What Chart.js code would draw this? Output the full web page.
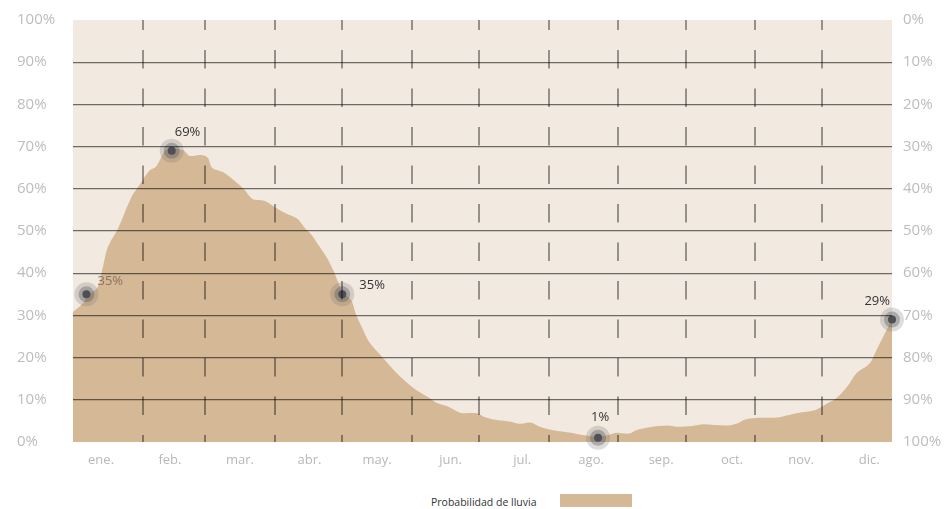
<!DOCTYPE html>
<html>
<head>
<meta charset="utf-8">
<title>Probabilidad de lluvia</title>
<script src="https://cdn.jsdelivr.net/npm/chart.js@4.4.1/dist/chart.umd.min.js"></script>
<style>
    html, body { margin: 0; padding: 0; background: #fff; }
    #wrap { position: relative; width: 948px; height: 509px; overflow: hidden; }
    #chart { position: absolute; left: 0; top: 0; }
    #legendText { position: absolute; left: 431px; top: 494px; font: 10.5px 'Open Sans', sans-serif; color: #333; line-height: 16px; }
    #legendBox { position: absolute; left: 560px; top: 494px; width: 72px; height: 13px; background: #d5b896; }
</style>
</head>
<body>
<div id="wrap">
    <canvas id="chart" width="948" height="485"></canvas>
    <span id="legendText">Probabilidad de lluvia</span>
    <div id="legendBox"></div>
</div>
<script>
// Meses (etiquetas del eje x)
const monthLabels = ['ene.', 'feb.', 'mar.', 'abr.', 'may.', 'jun.', 'jul.', 'ago.', 'sep.', 'oct.', 'nov.', 'dic.'];
// Día del año en que empieza cada mes (líneas discontinuas)
const monthStarts = [31, 59, 90, 120, 151, 181, 212, 243, 273, 304, 334];
// Posición (día) de cada etiqueta de mes
const monthLabelDays = [12.5, 43.2, 74.4, 105.4, 135.5, 168.3, 200.2, 230.9, 262.1, 293.7, 324.5, 354.8];
const yTicks = [0, 10, 20, 30, 40, 50, 60, 70, 80, 90, 100];

// Probabilidad de lluvia (%)
const rainDays = [0, 5, 6, 11, 13, 15, 17, 20, 26, 29, 34, 37, 41, 44, 49, 52, 57, 60, 62, 67, 71, 76, 80, 85, 89, 94,
    100, 103, 106, 110, 113, 116, 119, 120, 124, 126, 129, 132, 137, 141, 146, 152, 158, 162, 167, 173, 180, 183, 189,
    195, 199, 204, 208, 214, 222, 227, 234, 239, 242, 248, 251, 257, 265, 269, 276, 281, 291, 296, 300, 306, 314, 318,
    323, 331, 336, 340, 345, 349, 355, 358, 361, 365];
const rainValues = [30.8, 33.2, 34.5, 36.7, 40.7, 45.4, 47.8, 50.5, 58, 60.4, 64.3, 65.2, 69, 69.5, 69.2, 67.8, 68, 67.4, 65, 63.9, 62.3, 60, 57.6, 57.2, 56, 54.4,
    52.9, 50.9, 49.3, 46.2, 43.8, 40.7, 36.7, 35.4, 33.6, 30.4, 26.9, 23.7, 20.6, 18.2, 15.4, 12.7, 10.7, 9.3, 8.4, 6.9, 6.8, 6, 5.2,
    4.8, 4.3, 4.6, 3.6, 2.8, 2.2, 1.65, 1.2, 1.7, 2.2, 2, 2.8, 3.5, 3.9, 3.6, 3.8, 4.2, 3.9, 4.4, 5.4, 5.75, 5.8, 6.3,
    6.9, 7.6, 9.1, 10.3, 13.1, 16.2, 18.6, 21.7, 24.9, 29];

// Puntos destacados
const markerDays = [6, 44, 120, 234, 365];
const markerValues = [35, 69, 35, 1, 29];

const FONT = "'Open Sans', sans-serif";

function toPoints(xs, ys) {
    return xs.map((x, i) => ({ x: x, y: ys[i] }));
}

// Fondo del área del gráfico
const plotBackground = {
    id: 'plotBackground',
    beforeDraw(chart) {
        const { ctx, chartArea } = chart;
        ctx.save();
        ctx.fillStyle = '#f2e9e0';
        ctx.fillRect(chartArea.left, chartArea.top, chartArea.right - chartArea.left, chartArea.bottom - chartArea.top);
        ctx.restore();
    }
};

// Etiquetas de los puntos destacados
const markerLabels = {
    id: 'markerLabels',
    afterDraw(chart) {
        const { ctx } = chart;
        const meta = chart.getDatasetMeta(0);
        const place = [
            { dx: 11, dy: -13, align: 'left', color: '#8d735a' },
            { dx: 3, dy: -19, align: 'left', color: '#333' },
            { dx: 17, dy: -9, align: 'left', color: '#333' },
            { dx: 2, dy: -20, align: 'center', color: '#333' },
            { dx: -2, dy: -18, align: 'right', color: '#333' }
        ];
        ctx.save();
        ctx.font = '13px ' + FONT;
        ctx.textBaseline = 'middle';
        meta.data.forEach((pt, i) => {
            const p = place[i];
            ctx.fillStyle = p.color;
            ctx.textAlign = p.align;
            ctx.fillText(markerValues[i] + '%', pt.x + p.dx, pt.y + p.dy);
        });
        ctx.restore();
    }
};

const markerPoints = toPoints(markerDays, markerValues);

new Chart(document.getElementById('chart'), {
    type: 'line',
    data: {
        datasets: [
            {
                type: 'scatter', data: markerPoints, order: 1, clip: false,
                pointRadius: 4, pointHoverRadius: 4, pointBackgroundColor: '#4e5055', pointBorderWidth: 0
            },
            {
                type: 'scatter', data: markerPoints, order: 2, clip: false,
                pointRadius: 8, pointHoverRadius: 8, pointBackgroundColor: 'rgba(80,80,82,0.35)', pointBorderWidth: 0
            },
            {
                type: 'scatter', data: markerPoints, order: 3, clip: false,
                pointRadius: 12, pointHoverRadius: 12, pointBackgroundColor: 'rgba(120,120,120,0.25)', pointBorderWidth: 0
            },
            {
                label: 'Probabilidad de lluvia',
                data: toPoints(rainDays, rainValues),
                order: 4,
                fill: 'origin',
                backgroundColor: '#d5b896',
                borderWidth: 0,
                pointRadius: 0,
                tension: 0.3
            }
        ]
    },
    options: {
        responsive: false,
        animation: false,
        events: [],
        layout: { padding: { left: 17, right: 0, top: 17, bottom: 0 } },
        plugins: {
            legend: { display: false },
            tooltip: { enabled: false }
        },
        scales: {
            x: {
                type: 'linear', position: 'bottom', min: 0, max: 365,
                afterBuildTicks: (scale) => { scale.ticks = monthStarts.map(v => ({ value: v })); },
                afterFit: (scale) => { scale.height = 0; },
                ticks: { display: false },
                grid: { z: 1, color: 'rgba(0,0,0,0.38)', lineWidth: 2, drawTicks: false },
                border: { display: false, dash: [18.5, 20], dashOffset: 8.5 }
            },
            x2: {
                type: 'linear', position: 'bottom', min: 0, max: 365,
                afterBuildTicks: (scale) => { scale.ticks = monthLabelDays.map(v => ({ value: v })); },
                afterFit: (scale) => { scale.height = 43; },
                ticks: {
                    padding: 10, maxRotation: 0, autoSkip: false,
                    color: '#b8b8b8', font: { family: FONT, size: 13 },
                    callback: (v, i) => monthLabels[i]
                },
                grid: { display: false, drawTicks: false },
                border: { display: false }
            },
            y: {
                position: 'left', min: 0, max: 100,
                afterBuildTicks: (scale) => { scale.ticks = yTicks.map(v => ({ value: v })); },
                afterFit: (scale) => { scale.width = 56; },
                ticks: {
                    crossAlign: 'far', padding: 0,
                    color: '#bdbdbd', font: { family: FONT, size: 15 },
                    callback: (v) => v + '%'
                },
                grid: {
                    z: 1, drawTicks: false, lineWidth: 1.2,
                    color: (c) => (c.tick.value === 0 || c.tick.value === 100) ? 'rgba(0,0,0,0)' : 'rgba(0,0,0,0.55)'
                },
                border: { display: false }
            },
            y2: {
                position: 'right', min: 0, max: 100, reverse: true,
                afterBuildTicks: (scale) => { scale.ticks = yTicks.map(v => ({ value: v })); },
                afterFit: (scale) => { scale.width = 56; },
                ticks: {
                    padding: 11,
                    color: '#bdbdbd', font: { family: FONT, size: 15 },
                    callback: (v) => v + '%'
                },
                grid: { display: false, drawTicks: false },
                border: { display: false }
            }
        }
    },
    plugins: [plotBackground, markerLabels]
});
</script>
</body>
</html>
